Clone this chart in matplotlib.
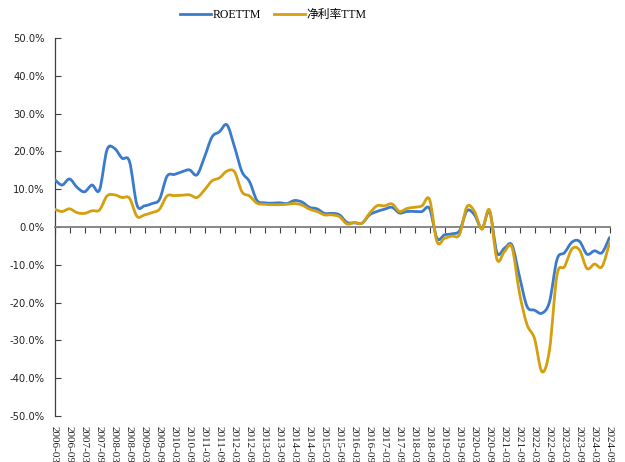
import numpy as np
import matplotlib
matplotlib.use("Agg")
import matplotlib.pyplot as plt
from matplotlib.path import Path
from matplotlib.patches import PathPatch
from matplotlib.lines import Line2D
from matplotlib.ticker import FuncFormatter

# quarterly dates 2006-03 ... 2024-09
quarters = [f"{y}-{m:02d}" for y in range(2006, 2025) for m in (3, 6, 9, 12)][:75]

roe_ttm = [12.6, 11.1, 12.7, 10.5, 9.3, 11.1, 9.8, 20.4, 20.8, 18.2,
           17.3, 5.8, 5.6, 6.2, 7.3, 13.4, 13.9, 14.6, 15.1, 13.8,
           18.5, 23.8, 25.2, 27.0, 21.2, 14.6, 12.0, 7.0, 6.4, 6.3,
           6.4, 6.2, 7.0, 6.6, 5.2, 4.8, 3.6, 3.6, 3.2, 1.2,
           1.1, 1.0, 3.2, 4.1, 4.7, 5.2, 3.7, 4.1, 4.1, 4.1,
           4.9, -3.0, -2.1, -1.8, -1.0, 4.3, 3.2, -0.4, 4.1, -6.8,
           -5.6, -4.8, -13.1, -21.0, -22.0, -22.8, -19.8, -8.6, -6.8, -4.0,
           -3.8, -7.2, -6.3, -6.8, -2.8]

net_margin_ttm = [4.7, 4.1, 4.8, 3.8, 3.6, 4.3, 4.5, 8.2, 8.5, 7.8,
                  7.6, 2.8, 3.2, 3.8, 4.7, 8.2, 8.3, 8.4, 8.5, 7.8,
                  9.8, 12.2, 13.0, 14.8, 14.6, 9.3, 8.2, 6.3, 6.0, 5.9,
                  5.9, 6.0, 6.2, 5.8, 4.7, 4.1, 3.2, 3.2, 2.7, 0.8,
                  1.2, 1.0, 3.6, 5.6, 5.6, 6.1, 4.1, 4.9, 5.2, 5.6,
                  7.3, -3.9, -3.0, -2.4, -2.0, 5.4, 4.1, -0.6, 4.5, -8.6,
                  -6.5, -5.4, -17.5, -25.8, -29.5, -38.3, -32.5, -12.7, -10.5, -5.8,
                  -6.1, -11.0, -9.8, -10.5, -4.3]

series_names = ["ROETTM", "净利率TTM"]
colors = ["#3a7bcb", "#d4a00f"]
yticks = list(range(-50, 51, 10))


def smooth_path(xs, ys):
    """Excel-style smoothed line (Catmull-Rom as cubic Bezier)."""
    pts = np.column_stack([xs, ys]).astype(float)
    n = len(pts)
    verts = [pts[0]]
    codes = [Path.MOVETO]
    for i in range(n - 1):
        p0 = pts[i - 1] if i > 0 else pts[i]
        p1 = pts[i]
        p2 = pts[i + 1]
        p3 = pts[i + 2] if i + 2 < n else pts[i + 1]
        c1 = p1 + (p2 - p0) / 6.0
        c2 = p2 - (p3 - p1) / 6.0
        verts += [c1, c2, p2]
        codes += [Path.CURVE4] * 3
    return Path(verts, codes)


fig = plt.figure(figsize=(6.25, 4.62), dpi=100)
ax = fig.add_axes([0.0872, 0.0996, 0.888, 0.8182])

x = np.arange(len(quarters))
for vals, c in zip([roe_ttm, net_margin_ttm], colors):
    patch = PathPatch(smooth_path(x, vals), facecolor="none", edgecolor=c,
                      lw=2.0, capstyle="round", joinstyle="round", zorder=3)
    ax.add_patch(patch)

ax.set_xlim(0, len(quarters) - 1)
ax.set_ylim(-50, 50)
ax.set_yticks(yticks)
ax.yaxis.set_major_formatter(FuncFormatter(lambda v, p: f"{v:.1f}%"))
ax.tick_params(axis="y", direction="in", length=4, width=0.8, color="#404040",
               labelsize=7.2, pad=7, labelcolor="#222222")
for lab in ax.get_yticklabels():
    lab.set_family("DejaVu Sans")

for s in ["top", "right"]:
    ax.spines[s].set_visible(False)
ax.spines["left"].set_color("#404040")
ax.spines["left"].set_linewidth(0.9)
ax.spines["bottom"].set_position(("data", 0))
ax.spines["bottom"].set_color("#7f7f7f")
ax.spines["bottom"].set_linewidth(1.3)

tick_pos = x[::2]
ax.set_xticks(tick_pos)
ax.set_xticklabels([])
ax.tick_params(axis="x", direction="out", length=4, width=0.8, color="#404040")

sec = ax.secondary_xaxis("bottom")
sec.set_xticks(tick_pos)
sec.set_xticklabels([quarters[i] for i in tick_pos], rotation=-90,
                    family="Liberation Serif", fontsize=8, color="#222222")
sec.tick_params(length=0, pad=7)
sec.spines["bottom"].set_visible(False)

handles = [Line2D([], [], color=c, lw=2.0) for c in colors]
fig.legend(handles, series_names, loc="center", bbox_to_anchor=(0.437, 0.968),
           ncol=2, frameon=False, handlelength=2.6, handletextpad=0.15,
           columnspacing=1.1,
           prop={"family": ["Liberation Serif", "Noto Sans CJK SC"], "size": 8.5})

fig.savefig("out.png", dpi=100)
